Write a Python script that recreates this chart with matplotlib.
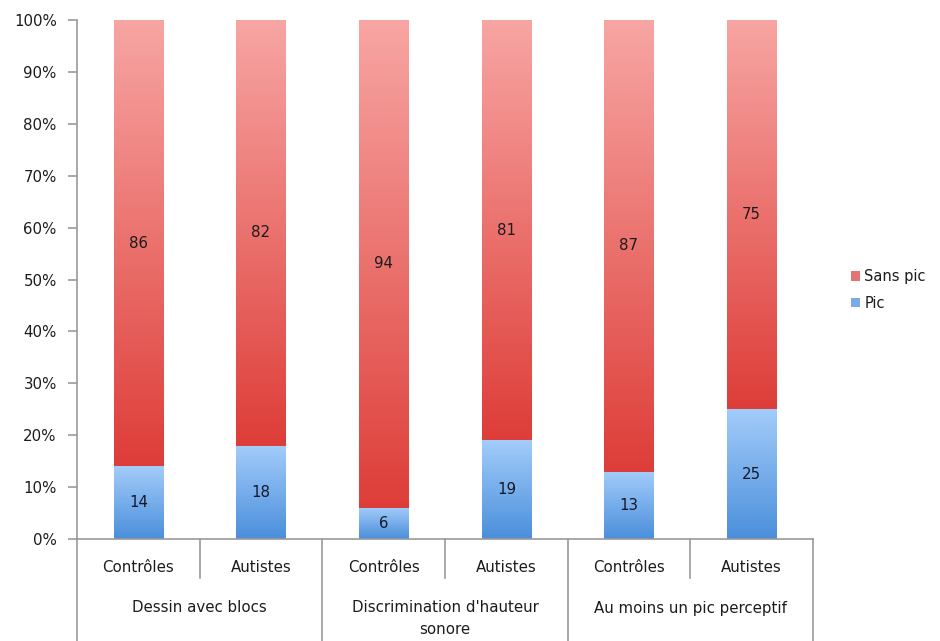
import numpy as np
import matplotlib
matplotlib.use("Agg")
import matplotlib.pyplot as plt
from matplotlib.colors import LinearSegmentedColormap
from matplotlib.patches import Patch
from matplotlib.lines import Line2D

plt.rcParams['font.family'] = ['DejaVu Sans']

groups = ["Dessin avec blocs", "Discrimination d'hauteur\nsonore", "Au moins un pic perceptif"]
subgroups = ["Contrôles", "Autistes"]
pic = [14, 18, 6, 19, 13, 25]
sans_pic = [86, 82, 94, 81, 87, 75]
yticks = [0, 10, 20, 30, 40, 50, 60, 70, 80, 90, 100]

red_cmap = LinearSegmentedColormap.from_list("red", [(0.87, 0.24, 0.22), (0.97, 0.65, 0.64)])
blue_cmap = LinearSegmentedColormap.from_list("blue", [(0.29, 0.56, 0.86), (0.64, 0.80, 0.98)])

TXT = "#1c1c1c"
FS = 10.8

W, H = 940, 641
fig = plt.figure(figsize=(W / 100, H / 100), dpi=100)
x0, x1, y0, y1 = 77, 813, 20, 539
ax = fig.add_axes([x0 / W, 1 - y1 / H, (x1 - x0) / W, (y1 - y0) / H])

n = len(pic)
xs = np.arange(n)
bw = 0.4
grad = np.linspace(0, 1, 256).reshape(-1, 1)

for i in range(n):
    lo = xs[i] - bw / 2
    hi = xs[i] + bw / 2
    ax.imshow(grad, cmap=blue_cmap, origin="lower", aspect="auto",
              extent=(lo, hi, 0, pic[i]), zorder=2, interpolation="bilinear")
    ax.imshow(grad, cmap=red_cmap, origin="lower", aspect="auto",
              extent=(lo, hi, pic[i], pic[i] + sans_pic[i]), zorder=2, interpolation="bilinear")
    ax.text(xs[i], pic[i] / 2, str(pic[i]), ha="center", va="center", fontsize=FS,
            color="#14182a", zorder=3)
    ax.text(xs[i], pic[i] + sans_pic[i] / 2, str(sans_pic[i]), ha="center", va="center",
            fontsize=FS, color=TXT, zorder=3)

ax.set_xlim(-0.5, n - 0.5)
ax.set_ylim(0, 100)
ax.set_yticks(yticks)
ax.set_yticklabels([f"{v}%" for v in yticks], fontsize=FS, color=TXT)
ax.set_xticks([])
for s in ["top", "right"]:
    ax.spines[s].set_visible(False)
for s in ["left", "bottom"]:
    ax.spines[s].set_color("#9a9a9a")
    ax.spines[s].set_linewidth(1.2)
ax.tick_params(axis="y", length=6.5, color="#9a9a9a", width=1.2, pad=8)

# multi-level category axis below the plot
trans = ax.get_xaxis_transform()
def yfrac(py):
    return (y1 - py) / (y1 - y0)

for i in range(n):
    ax.text(xs[i], yfrac(568), subgroups[i % 2], ha="center", va="center",
            fontsize=FS, color=TXT, transform=trans, clip_on=False)
for g, name in enumerate(groups):
    cx = 2 * g + 0.5
    lines = name.split("\n")
    ax.text(cx, yfrac(608), lines[0], ha="center", va="center", fontsize=FS,
            color=TXT, transform=trans, clip_on=False)
    if len(lines) > 1:
        ax.text(cx, yfrac(630), lines[1], ha="center", va="center", fontsize=FS,
                color=TXT, transform=trans, clip_on=False)

for k in range(n + 1):
    xb = k - 0.5
    bottom = yfrac(641) if k % 2 == 0 else yfrac(578)
    ax.add_line(Line2D([xb, xb], [0, bottom], transform=trans, color="#9a9a9a",
                       lw=1.2, clip_on=False))

handles = [Patch(facecolor=(0.9, 0.45, 0.45), label="Sans pic"),
           Patch(facecolor=(0.47, 0.67, 0.91), label="Pic")]
fig.legend(handles=handles, loc="center left", bbox_to_anchor=(838 / W, 1 - 290 / H),
           frameon=False, fontsize=10.5, handlelength=0.6, handleheight=0.6,
           handletextpad=0.3, labelspacing=0.8, labelcolor=TXT)

fig.savefig("out.png", dpi=100)
